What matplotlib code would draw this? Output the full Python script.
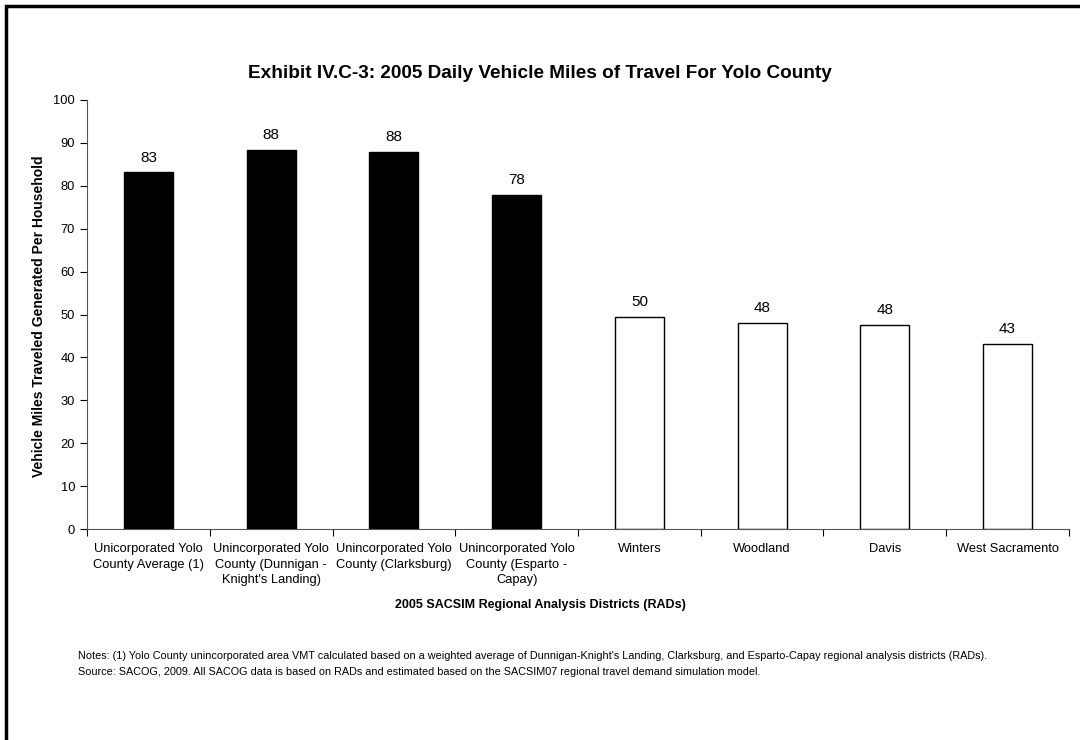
import numpy as np
import matplotlib.pyplot as plt
from matplotlib.patches import Rectangle

plt.rcParams['font.family'] = ['Liberation Sans', 'DejaVu Sans']

districts = ['Unicorporated Yolo\nCounty Average (1)',
             'Unincorporated Yolo\nCounty (Dunnigan -\nKnight\'s Landing)',
             'Unincorporated Yolo\nCounty (Clarksburg)',
             'Unincorporated Yolo\nCounty (Esparto -\nCapay)',
             'Winters', 'Woodland', 'Davis', 'West Sacramento']
vmt = [83.1, 88.4, 87.9, 77.9, 49.5, 48.1, 47.6, 43.1]
unincorporated = [True, True, True, True, False, False, False, False]

fig = plt.figure(figsize=(10.8, 7.4), dpi=100)
ax = fig.add_axes([0.0806, 0.2851, 0.9092, 0.5798])

x = np.arange(len(districts))
colors = ['black' if u else 'white' for u in unincorporated]
ax.bar(x, vmt, width=0.4, color=colors, edgecolor='black', linewidth=1.0)

for xi, v in zip(x, vmt):
    ax.text(xi, v + 1.8, f'{v:.0f}', ha='center', va='bottom', fontsize=11)

ax.set_xlim(-0.5, len(districts) - 0.5)
ax.set_ylim(0, 100)
ax.set_yticks(range(0, 101, 10))
ax.tick_params(axis='y', labelsize=9.3, length=5, width=0.8, direction='out')

ax.set_xticks(x)
ax.set_xticklabels(districts, fontsize=9.3, linespacing=1.4)
ax.tick_params(axis='x', length=0, pad=10)
ax.set_xticks(np.arange(-0.5, len(districts), 1.0), minor=True)
ax.tick_params(axis='x', which='minor', length=5, width=0.8)

ax.spines['top'].set_visible(False)
ax.spines['right'].set_visible(False)
ax.spines['left'].set_color('#555555')
ax.spines['bottom'].set_color('#555555')

ax.set_ylabel('Vehicle Miles Traveled Generated Per Household', fontsize=10, fontweight='bold')
ax.yaxis.set_label_coords(-0.042, 0.495)

fig.text(0.5, 1 - 73 / 740, 'Exhibit IV.C-3: 2005 Daily Vehicle Miles of Travel For Yolo County',
         ha='center', va='center', fontsize=13.7, fontweight='bold')
fig.text(0.5, 1 - 605 / 740, '2005 SACSIM Regional Analysis Districts (RADs)',
         ha='center', va='center', fontsize=9, fontweight='bold')

notes = ["Notes: (1) Yolo County unincorporated area VMT calculated based on a weighted average of Dunnigan-Knight's Landing, Clarksburg, and Esparto-Capay regional analysis districts (RADs).",
         'Source: SACOG, 2009. All SACOG data is based on RADs and estimated based on the SACSIM07 regional travel demand simulation model.']
fig.text(78 / 1080, 1 - 656 / 740, notes[0], ha='left', va='center', fontsize=7.8)
fig.text(78 / 1080, 1 - 672 / 740, notes[1], ha='left', va='center', fontsize=7.8)

fig.patches.append(Rectangle((6 / 1080, -0.05), 1.1, 1 - 6 / 740 + 0.05, transform=fig.transFigure,
                             fill=False, edgecolor='black', linewidth=2.5))

fig.savefig('out.png', dpi=100, facecolor='white')
